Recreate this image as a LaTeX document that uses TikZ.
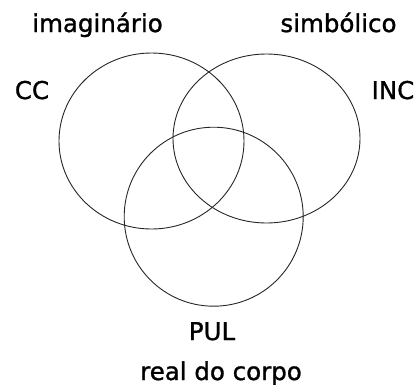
\documentclass[tikz,border=0pt]{standalone}
\usepackage{fontspec}
\setmainfont[FakeBold=1.2]{DejaVu Sans}
\usepackage{tikz}
\usetikzlibrary{positioning}

\begin{document}
\begin{tikzpicture}[
    x=1bp, y=-1bp,
    ring/.style={draw=black!85, line width=0.9bp},
    label/.style={anchor=base, inner sep=0pt, font=\fontsize{24.5bp}{27bp}\selectfont}
]
\useasboundingbox (0,0) rectangle (419,385);

% Registers
\draw[ring] (151.5,141) ellipse [x radius=92.5, y radius=88];
\draw[ring] (266.5,138.5) ellipse [x radius=93.5, y radius=84.5];
\draw[ring] (213.7,216.7) ellipse [x radius=89.5, y radius=89.5];

% Names
\node[label] (imag) at (97.5,32) {imaginário};
\node[label] (simb) at (338.5,32) {simbólico};
\node[label] (real) at (221,380) {real do corpo};

% Labels
\node[label] (cc) at (32,99) {CC};
\node[label] (inc) at (393,99) {INC};
\node[label] (pul) at (212,340) {PUL};

\end{tikzpicture}
\end{document}
